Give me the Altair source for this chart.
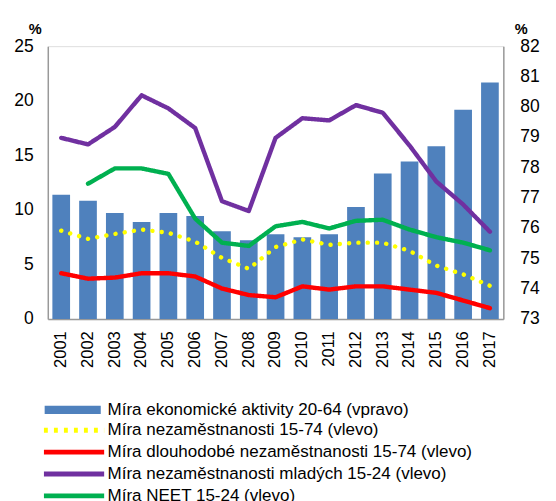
import altair as alt
import pandas as pd

years = [str(y) for y in range(2001, 2018)]
activity = [77.1, 76.9, 76.5, 76.2, 76.5, 76.4, 75.9, 75.6, 75.8, 75.7, 75.8, 76.7, 77.8, 78.2, 78.7, 79.9, 80.8]
unemp = [8.1, 7.35, 7.8, 8.2, 7.9, 7.1, 5.6, 4.6, 6.6, 7.3, 6.8, 7.0, 7.0, 6.25, 4.9, 4.1, 3.05]
longterm = [4.2, 3.7, 3.8, 4.2, 4.2, 3.9, 2.8, 2.2, 2.0, 3.0, 2.7, 3.0, 3.0, 2.7, 2.4, 1.7, 1.0]
youth = [16.6, 16.0, 17.6, 20.5, 19.3, 17.5, 10.8, 9.9, 16.6, 18.4, 18.2, 19.6, 18.9, 15.9, 12.6, 10.5, 8.0]
neet = [None, 12.4, 13.8, 13.8, 13.3, 9.2, 7.0, 6.7, 8.5, 8.9, 8.3, 9.0, 9.1, 8.2, 7.5, 7.0, 6.3]

s_act = "Míra ekonomické aktivity 20-64 (vpravo)"
s_un = "Míra nezaměstnanosti 15-74 (vlevo)"
s_lt = "Míra dlouhodobé nezaměstnanosti 15-74 (vlevo)"
s_yo = "Míra nezaměstnanosti mladých 15-24 (vlevo)"
s_ne = "Míra NEET 15-24 (vlevo)"

line_series = [s_un, s_lt, s_yo, s_ne]
line_colors = ["#FFFF00", "#FF0000", "#7030A0", "#00B050"]
legend_dashes = [[4, 6.3], [1, 0], [1, 0], [1, 0]]

bars_df = pd.DataFrame({"year": years, "value": activity, "series": s_act})
yellow_df = pd.DataFrame({"year": years, "value": unemp, "series": s_un})
rows = []
for name, vals in zip([s_lt, s_yo, s_ne], [longterm, youth, neet]):
    for yr, v in zip(years, vals):
        if v is not None:
            rows.append({"year": yr, "value": v, "series": name})
lines_df = pd.DataFrame(rows)

FONT = "Liberation Sans"
LEG_FS = 17.5

x_enc = alt.X(
    "year:N",
    scale=alt.Scale(paddingInner=0.34, paddingOuter=0.17),
    axis=alt.Axis(title=None, labelAngle=-90, labelFontSize=17, labelPadding=12,
                  ticks=False, domainColor="#999999", domainWidth=1.5, labelColor="#000000"),
)

bars = alt.Chart(bars_df).mark_bar().encode(
    x=x_enc,
    y=alt.Y("value:Q",
            scale=alt.Scale(domain=[73, 82], zero=False, nice=False),
            axis=alt.Axis(orient="right", title="%", titleAngle=0, titleFontWeight="bold",
                          titleFontSize=15, titleX=18, titleY=-18, titleAlign="center",
                          titleBaseline="middle", values=list(range(73, 83)),
                          labelFontSize=18, labelPadding=17, ticks=False, grid=False,
                          domainColor="#999999", domainWidth=1.5, labelColor="#000000")),
    y2=alt.datum(73),
    fill=alt.Fill("series:N", scale=alt.Scale(range=["#4F81BD"]),
                  legend=alt.Legend(title=None, orient="none", legendX=-3.5, legendY=366.5,
                                    symbolType="M-1,-0.15L1,-0.15L1,0.15L-1,0.15Z",
                                    symbolSize=3364, symbolStrokeWidth=0, clipHeight=16,
                                    labelFontSize=LEG_FS, labelOffset=7, labelLimit=0,
                                    labelColor="#000000", labelFont=FONT)),
)

y_left = alt.Y("value:Q",
               scale=alt.Scale(domain=[0, 25], nice=False),
               axis=alt.Axis(orient="left", title="%", titleAngle=0, titleFontWeight="bold",
                             titleFontSize=15, titleX=-13.5, titleY=-18, titleAlign="center",
                             titleBaseline="middle", values=[0, 5, 10, 15, 20, 25],
                             labelFontSize=18, labelPadding=15, ticks=False, grid=False,
                             domainColor="#999999", domainWidth=1.5, labelColor="#000000"))

line_legend = alt.Legend(title=None, orient="none", legendX=-6.5, legendY=387.5,
                         symbolType="stroke", symbolSize=3844, symbolStrokeWidth=5,
                         labelFontSize=LEG_FS, labelOffset=1, labelLimit=0, rowPadding=4.5,
                         clipHeight=16, labelColor="#000000", labelFont=FONT)

yellow = alt.Chart(yellow_df).mark_line(
    stroke="#FFFF00", strokeWidth=4.5, strokeCap="round", strokeDash=[0.1, 9.5]
).encode(x=x_enc, y=y_left)

lines = alt.Chart(lines_df).mark_line(strokeWidth=4.5, strokeCap="round", strokeJoin="round").encode(
    x=x_enc,
    y=y_left,
    stroke=alt.Stroke("series:N", scale=alt.Scale(domain=line_series, range=line_colors),
                      legend=line_legend),
    strokeDash=alt.StrokeDash("series:N", scale=alt.Scale(domain=line_series, range=legend_dashes),
                              legend=line_legend),
)

chart = alt.layer(bars, alt.layer(yellow, lines)).resolve_scale(y="independent").properties(
    width=469, height=281,
    padding={"left": 41, "top": 32, "right": 46, "bottom": 180},
    autosize=alt.AutoSizeParams(type="none"),
).configure_view(stroke=None).configure(font=FONT)

chart.save("out.html", embed_options={"renderer": "svg", "actions": False})
